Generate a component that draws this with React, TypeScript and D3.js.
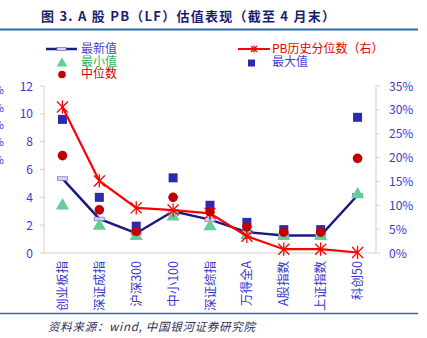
import React from "react";
import * as d3 from "d3";

const categories = ["创业板指", "深证成指", "沪深300", "中小100", "深证综指", "万得全A", "A股指数", "上证指数", "科创50"];
const latest = [5.35, 2.45, 1.42, 3.0, 2.4, 1.5, 1.25, 1.25, 4.15];
const minVals = [3.4, 1.95, 1.2, 2.6, 1.9, 1.27, 1.2, 1.2, 4.2];
const medianVals = [7.0, 3.1, 1.55, 4.0, 2.95, 1.87, 1.5, 1.5, 6.8];
const maxVals = [9.6, 4.0, 1.93, 5.4, 3.43, 2.2, 1.68, 1.68, 9.75];
const pctVals = [0.306, 0.151, 0.0945, 0.09, 0.083, 0.035, 0.008, 0.008, 0.001];
const leftTicks = [0, 2, 4, 6, 8, 10, 12];
const rightTicks = [0, 0.05, 0.1, 0.15, 0.2, 0.25, 0.3, 0.35];

const CJK = "'Noto Sans CJK SC', 'Noto Sans', sans-serif";
const AXIS_BLUE = "#3a3acf";

export default function App() {
  const W = 427, H = 338;
  const x0 = 44, x1 = 376, yTop = 86, yBot = 253;
  const x = d3.scaleBand<string>().domain(categories).range([x0, x1]);
  const cx = (c: string) => (x(c) as number) + x.bandwidth() / 2;
  const yL = d3.scaleLinear().domain([0, 12]).range([yBot, yTop]);
  const yR = d3.scaleLinear().domain([0, 0.35]).range([yBot, yTop]);
  const lineL = d3.line<number>().x((_, i) => cx(categories[i])).y((d) => yL(d));
  const lineR = d3.line<number>().x((_, i) => cx(categories[i])).y((d) => yR(d));
  const tri = d3.symbol().type(d3.symbolTriangle).size(50)() as string;

  const asterisk = (px: number, py: number, r: number, key: string) => (
    <g key={key} stroke="#ff0000" strokeWidth={1.3}>
      <line x1={px - r} y1={py - r} x2={px + r} y2={py + r} />
      <line x1={px - r} y1={py + r} x2={px + r} y2={py - r} />
      <line x1={px} y1={py - r * 1.2} x2={px} y2={py + r * 1.2} />
    </g>
  );

  const pctFmt = (v: number) => `${Math.round(v * 100)}%`;

  return (
    <svg width={W} height={H} style={{ position: "absolute", left: 0, top: 0, background: "#fff" }}>
      {/* title */}
      <text x={41} y={21} fontFamily={CJK} fontWeight="bold" fontSize={13} fill="#1e1e6e" textLength={294}>
        图 3. A 股 PB（LF）估值表现（截至 4 月末）
      </text>
      <line x1={0} x2={418} y1={29.5} y2={29.5} stroke="#2f6ca6" strokeWidth={2} />

      {/* cropped % artifacts at left edge (as in the reference) */}
      {[90, 108, 125, 142, 160].map((yy, i) => (
        <text key={"p" + i} x={4} y={yy + 4} textAnchor="end" fontFamily={CJK} fontSize={11} fill={AXIS_BLUE}>%</text>
      ))}

      {/* legend */}
      <line x1={46} x2={77} y1={49} y2={49} stroke="#1a1a80" strokeWidth={2.5} />
      <rect x={57} y={47.5} width={9} height={3} fill="#d6d6f5" stroke="#7b7bc8" strokeWidth={0.8} />
      <text x={81} y={53} fontFamily={CJK} fontSize={12} fill="#4646c8">最新值</text>
      <path d={tri} transform={`translate(62,63.5)`} fill="#66cc99" />
      <text x={81} y={65.5} fontFamily={CJK} fontSize={12} fill="#2fb35a">最小值</text>
      <circle cx={62} cy={74.5} r={3.8} fill="#c00000" />
      <text x={81} y={78} fontFamily={CJK} fontSize={12} fill="#d00000">中位数</text>

      <line x1={238} x2={270} y1={49} y2={49} stroke="#ff0000" strokeWidth={2} />
      {asterisk(254, 49, 3, "la")}
      <text x={272} y={53} fontFamily={CJK} fontSize={12} fill="#e00000">PB历史分位数（右）</text>
      <rect x={248} y={59.5} width={7} height={7} fill="#2b2bb0" />
      <text x={272} y={65.5} fontFamily={CJK} fontSize={12} fill="#4646c8">最大值</text>

      {/* axes */}
      <line x1={x0} x2={x0} y1={yTop} y2={yBot} stroke="#d0d0d0" />
      <line x1={x1} x2={x1} y1={yTop} y2={yBot} stroke="#d0d0d0" />
      <line x1={x0} x2={x1} y1={yBot} y2={yBot} stroke="#d0d0d0" />
      {leftTicks.map((t) => (
        <g key={"l" + t}>
          <line x1={x0 - 4} x2={x0} y1={yL(t)} y2={yL(t)} stroke="#d0d0d0" />
          <text x={33} y={yL(t) + 4.5} textAnchor="end" fontFamily={CJK} fontSize={12} fill={AXIS_BLUE}>{t}</text>
        </g>
      ))}
      {rightTicks.map((t) => (
        <g key={"r" + t}>
          <line x1={x1} x2={x1 + 4} y1={yR(t)} y2={yR(t)} stroke="#d0d0d0" />
          <text x={389} y={yR(t) + 4.5} textAnchor="start" fontFamily={CJK} fontSize={12} fill={AXIS_BLUE}>{pctFmt(t)}</text>
        </g>
      ))}
      {categories.map((c) => (
        <text key={"c" + c} transform={`translate(${cx(c) + 4.5},261) rotate(-90)`} textAnchor="end"
          fontFamily={CJK} fontSize={12.5} fill={AXIS_BLUE}>{c}</text>
      ))}

      {/* latest line */}
      <path d={lineL(latest) as string} fill="none" stroke="#1a1a80" strokeWidth={2.5} />
      {latest.map((v, i) => (
        <rect key={"lm" + i} x={cx(categories[i]) - 5} y={yL(v) - 1.8} width={10} height={3.6}
          fill="#d6d6f5" stroke="#7b7bc8" strokeWidth={0.8} />
      ))}

      {/* max squares */}
      {maxVals.map((v, i) => (
        <rect key={"mx" + i} x={cx(categories[i]) - 4.5} y={yL(v) - 4.5} width={9} height={9} fill="#2b2bb0" />
      ))}
      {/* min triangles */}
      {minVals.map((v, i) => (
        <path key={"mn" + i} d={d3.symbol().type(d3.symbolTriangle).size(75)() as string}
          transform={`translate(${cx(categories[i])},${yL(v)})`} fill="#66cc99" />
      ))}

      {/* percentile line */}
      <path d={lineR(pctVals) as string} fill="none" stroke="#ff0000" strokeWidth={2.2} />
      {pctVals.map((v, i) => asterisk(cx(categories[i]), yR(v), 5.5, "pa" + i))}

      {/* median circles */}
      {medianVals.map((v, i) => (
        <circle key={"md" + i} cx={cx(categories[i])} cy={yL(v)} r={4.8} fill="#c00000" />
      ))}

      {/* footer */}
      <line x1={0} x2={418} y1={313.5} y2={313.5} stroke="#2f6ca6" strokeWidth={1.5} />
      <text x={48} y={331} fontFamily={CJK} fontStyle="italic" fontSize={11.5} fill="#30305a" textLength={207}>
        资料来源：wind, 中国银河证券研究院
      </text>
    </svg>
  );
}
